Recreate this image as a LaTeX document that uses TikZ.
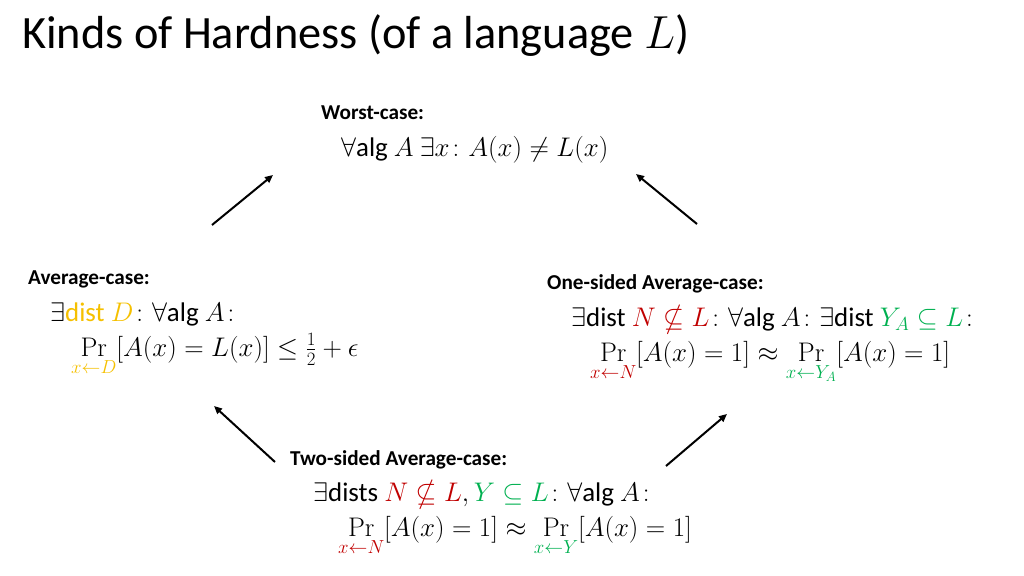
\RequirePackage{fix-cm}
\documentclass[tikz,border=0pt]{standalone}
\usepackage[no-math]{fontspec}
\setmainfont{Carlito}
\usepackage{amsmath,amssymb}
\usetikzlibrary{arrows.meta}
\definecolor{dgold}{HTML}{F5C000}
\definecolor{dred}{HTML}{C00000}
\definecolor{dgreen}{HTML}{00B050}
\tikzset{
  title/.style={anchor=base west,inner sep=0pt,font=\fontsize{46.5}{54}\selectfont},
  head/.style={anchor=base west,inner sep=0pt,font=\fontsize{21.3}{25}\selectfont\bfseries},
  formula/.style={anchor=base west,inner sep=0pt,font=\fontsize{27}{32}\selectfont},
  implies/.style={line width=2bp,-{Triangle[length=8bp,width=7bp]}}
}
\begin{document}
\begin{tikzpicture}[x=1bp,y=-1bp]
\useasboundingbox (0,0) rectangle (1024,576);
\node[title] (t) at (22,49) {Kinds of Hardness (of a language $L$)};
% worst
\node[head] (wh) at (321,120) {Worst-case:};
\node[formula] (wf) at (341,157) {$\forall\text{alg }A\ \exists x\colon A(x)\neq L(x)$};
% average
\node[head] (ah) at (28,285) {Average-case:};
\node[formula] (af1) at (50,321) {$\exists\textcolor{dgold}{\text{dist }D}\colon\forall\text{alg }A\colon$};
\node[formula] (af2) at (71,356) {$\displaystyle\Pr_{\textcolor{dgold}{x\leftarrow D}}[A(x)=L(x)]\le\tfrac{1}{2}+\epsilon$};
% one-sided
\node[head] (oh) at (547,290) {One-sided Average-case:};
\node[formula] (of1) at (571,326) {$\exists\text{dist }\textcolor{dred}{N\nsubseteq L}\colon\forall\text{alg }A\colon\exists\text{dist }\textcolor{dgreen}{Y_A\subseteq L}\colon$};
\node[formula] (of2) at (590,361) {$\displaystyle\Pr_{\textcolor{dred}{x\leftarrow N}}[A(x)=1]\approx\Pr_{\textcolor{dgreen}{x\leftarrow Y_A}}[A(x)=1]$};
% two-sided
\node[head] (th) at (290,465) {Two-sided Average-case:};
\node[formula] (tf1) at (313,501) {$\exists\text{dists }\textcolor{dred}{N\nsubseteq L},\textcolor{dgreen}{Y\subseteq L}\colon\forall\text{alg }A\colon$};
\node[formula] (tf2) at (338,536) {$\displaystyle\Pr_{\textcolor{dred}{x\leftarrow N}}[A(x)=1]\approx\Pr_{\textcolor{dgreen}{x\leftarrow Y}}[A(x)=1]$};
% arrows
\coordinate (a1s) at (212,225); \coordinate (a1e) at (273,175);
\coordinate (a2s) at (697,224); \coordinate (a2e) at (636,174);
\coordinate (a3s) at (275,462); \coordinate (a3e) at (214,406);
\coordinate (a4s) at (666,466); \coordinate (a4e) at (727,414);
\draw[implies] (a1s) -- (a1e);
\draw[implies] (a2s) -- (a2e);
\draw[implies] (a3s) -- (a3e);
\draw[implies] (a4s) -- (a4e);
\end{tikzpicture}
\end{document}
